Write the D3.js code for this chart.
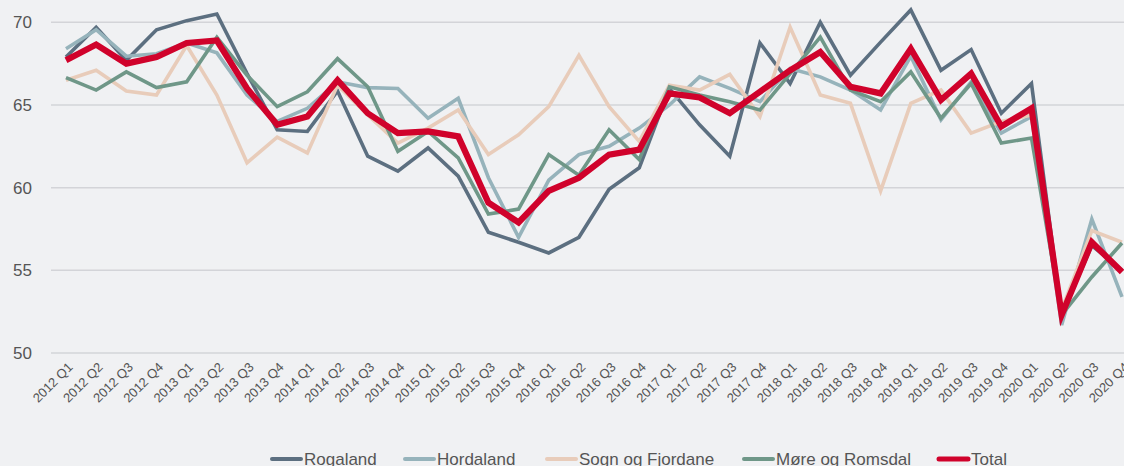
<!DOCTYPE html>
<html><head><meta charset="utf-8">
<script src="https://cdn.jsdelivr.net/npm/d3@7"></script>
<style>
html,body{margin:0;padding:0;background:#f0f1f3;}
svg{display:block;}
</style></head>
<body>
<svg id="chart" width="1124" height="466"></svg>
<script>
const categories = [];
const years = [2012,2013,2014,2015,2016,2017,2018,2019,2020];
years.forEach(y => ["Q1","Q2","Q3","Q4"].forEach(q => categories.push(y + " " + q)));

const rogaland = [67.9,69.7,67.7,69.55,70.1,70.5,66.9,63.5,63.4,65.85,61.9,61.0,62.4,60.7,57.3,56.7,56.05,57.0,59.9,61.2,66.0,63.8,61.9,68.75,66.3,70.0,66.8,68.8,70.75,67.1,68.35,64.5,66.3,52.3,56.5,55.0];
const hordaland = [68.4,69.55,67.95,68.1,68.75,68.15,65.6,64.0,64.8,66.4,66.05,66.0,64.2,65.4,60.6,57.0,60.45,62.0,62.5,63.6,65.0,66.7,66.0,65.2,67.2,66.7,65.9,64.7,67.95,64.1,66.4,63.3,64.3,51.7,58.1,53.4];
const sogn = [66.5,67.1,65.85,65.6,68.6,65.6,61.5,63.05,62.1,66.2,64.4,62.7,63.6,64.7,62.0,63.2,64.9,68.0,64.9,62.8,66.2,65.9,66.85,64.3,69.7,65.6,65.1,59.8,65.1,65.9,63.3,64.0,64.4,52.6,57.4,56.7];
const more = [66.65,65.9,67.0,66.05,66.4,69.1,66.8,64.9,65.8,67.8,66.1,62.2,63.4,61.8,58.4,58.7,62.0,60.75,63.5,61.7,66.1,65.6,65.2,64.7,66.9,69.1,65.9,65.2,67.0,64.2,66.3,62.7,63.0,52.3,54.6,56.65];
const total = [67.7,68.65,67.5,67.9,68.75,68.9,66.0,63.8,64.3,66.5,64.5,63.3,63.4,63.1,59.1,57.9,59.8,60.6,62.0,62.3,65.7,65.45,64.5,65.8,67.1,68.2,66.1,65.7,68.4,65.3,66.9,63.7,64.8,52.3,56.7,54.9];
const yTicks = [50,55,60,65,70];

const seriesNames = ["Rogaland","Hordaland","Sogn og Fjordane","Møre og Romsdal","Total"];
const seriesValues = [rogaland, hordaland, sogn, more, total];
const colors = ["#5c6f80","#96b3bb","#e8ccba","#6f9788","#d0022b"];
const widths = [3.6,3.6,3.6,3.6,6.2];

const svg = d3.select("#chart");
const x = d3.scalePoint().domain(categories).range([66, 1122]);
const y = d3.scaleLinear().domain([50, 70]).range([353, 22.3]);

// gridlines
svg.append("g").selectAll("line").data(yTicks).join("line")
  .attr("x1", 51).attr("x2", 1124)
  .attr("y1", d => y(d)).attr("y2", d => y(d))
  .attr("stroke", "#d3d4d8").attr("stroke-width", 1.5);

// y axis labels
const yAxis = d3.axisLeft(y).tickValues(yTicks).tickSize(0).tickPadding(0);
const gy = svg.append("g").attr("transform", "translate(32,0)").call(yAxis);
gy.select(".domain").remove();
gy.selectAll("text").attr("font-family", "Liberation Sans, Arial, sans-serif")
  .attr("font-size", 17).attr("fill", "#555");

// x axis labels
const xAxis = d3.axisBottom(x).tickSize(0).tickPadding(0);
const gx = svg.append("g").attr("transform", "translate(0,360)").call(xAxis);
gx.select(".domain").remove();
gx.selectAll("text")
  .attr("font-family", "Liberation Sans, Arial, sans-serif")
  .attr("font-size", 13).attr("fill", "#555")
  .attr("text-anchor", "end")
  .attr("dy", 0)
  .attr("transform", "translate(7,8) rotate(-45)");

// lines
const line = d3.line().x((d, i) => x(categories[i])).y(d => y(d));
svg.append("g").selectAll("path").data(seriesValues).join("path")
  .attr("d", d => line(d))
  .attr("fill", "none")
  .attr("stroke", (d, i) => colors[i])
  .attr("stroke-width", (d, i) => widths[i])
  .attr("stroke-linejoin", "miter")
  .attr("stroke-miterlimit", 4);

// legend
const legendX = [270, 403, 545, 742, 937];
const lg = svg.append("g");
seriesNames.forEach((name, i) => {
  lg.append("line")
    .attr("x1", legendX[i] + 2).attr("x2", legendX[i] + 31)
    .attr("y1", 459).attr("y2", 459)
    .attr("stroke", colors[i]).attr("stroke-width", i === 4 ? 5 : 4)
    .attr("stroke-linecap", "round");
  lg.append("text")
    .attr("x", legendX[i] + 34).attr("y", 465)
    .attr("font-family", "Liberation Sans, Arial, sans-serif")
    .attr("font-size", 17).attr("fill", "#555")
    .text(name);
});
</script>
</body></html>
